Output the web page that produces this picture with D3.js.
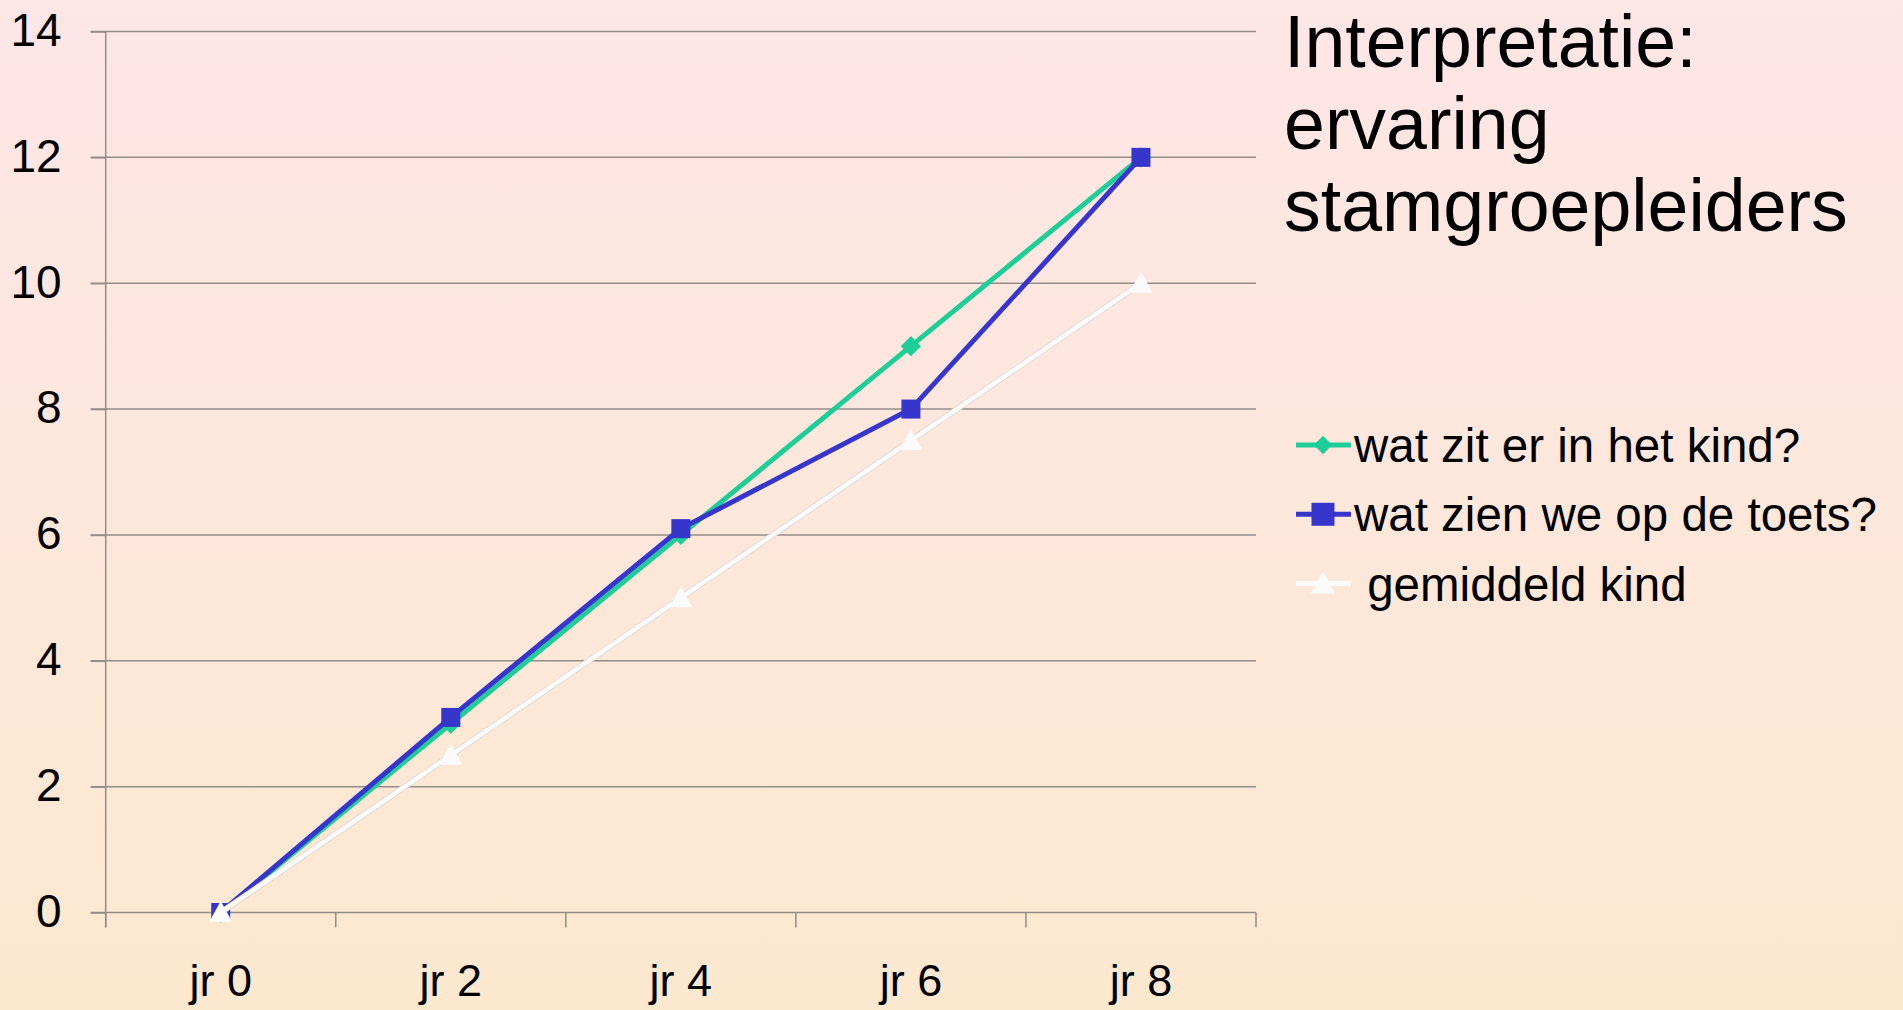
<!DOCTYPE html>
<html>
<head>
<meta charset="utf-8">
<script src="https://cdn.jsdelivr.net/npm/d3@7"></script>
<style>
  html, body { margin: 0; padding: 0; overflow: hidden; }
  body { font-family: "Liberation Sans", Arial, sans-serif; }
</style>
</head>
<body>
<div id="container"></div>
<script>
const width = 1903;
const height = 1010;
const margin = { top: 31.5, bottom: 97.5, left: 105.7, right: 647 };

// data
const categories = ["jr 0", "jr 2", "jr 4", "jr 6", "jr 8"];
const zitInKind = [0, 3, 6, 9, 12];
const zienOpToets = [0, 3.1, 6.1, 8, 12];
const gemiddeldKind = [0, 2.5, 5, 7.5, 10];
const yTicks = [0, 2, 4, 6, 8, 10, 12, 14];
const titleLines = ["Interpretatie:", "ervaring", "stamgroepleiders"];

const series = [
  { name: "wat zit er in het kind?", values: zitInKind, color: "#1dcf97", marker: "diamond" },
  { name: "wat zien we op de toets?", values: zienOpToets, color: "#3636cc", marker: "square" },
  { name: " gemiddeld kind", values: gemiddeldKind, color: "#fbfbfb", marker: "triangle" }
];

const svg = d3.select("#container")
  .append("svg")
  .attr("width", width)
  .attr("height", height);

const defs = svg.append("defs");
const grad = defs.append("linearGradient")
  .attr("id", "bg")
  .attr("x1", 0).attr("y1", 0).attr("x2", 0).attr("y2", 1);
grad.append("stop").attr("offset", "0%").attr("stop-color", "#ffe6e7");
grad.append("stop").attr("offset", "100%").attr("stop-color", "#fce8cf");

svg.append("rect")
  .attr("width", width)
  .attr("height", height)
  .attr("fill", "url(#bg)");

const xScale = d3.scaleBand()
  .domain(categories)
  .range([margin.left, width - margin.right]);

const yScale = d3.scaleLinear()
  .domain([0, 14])
  .range([height - margin.bottom, margin.top]);

const gridColor = "#938d88";

// gridlines
svg.append("g")
  .selectAll("line")
  .data(yTicks)
  .join("line")
  .attr("x1", margin.left - 15)
  .attr("x2", width - margin.right)
  .attr("y1", d => yScale(d))
  .attr("y2", d => yScale(d))
  .attr("stroke", gridColor)
  .attr("stroke-width", 1.5);

// y axis
const yAxis = svg.append("g")
  .attr("transform", `translate(${margin.left},0)`)
  .call(d3.axisLeft(yScale).tickValues(yTicks).tickSize(15).tickPadding(29));
yAxis.select(".domain").remove();
yAxis.selectAll(".tick line").attr("stroke", gridColor).attr("stroke-width", 1.5);
yAxis.selectAll(".tick text")
  .attr("font-family", "Liberation Sans, Arial, sans-serif")
  .attr("font-size", 46)
  .attr("fill", "#000")
  .attr("dy", "0.3em");

svg.append("line")
  .attr("x1", margin.left).attr("x2", margin.left)
  .attr("y1", yScale(14)).attr("y2", yScale(0) + 15)
  .attr("stroke", gridColor).attr("stroke-width", 1.5);

// x axis
const xAxis = svg.append("g")
  .attr("transform", `translate(0,${yScale(0)})`)
  .call(d3.axisBottom(xScale).tickSize(0).tickPadding(52));
xAxis.select(".domain").remove();
xAxis.selectAll(".tick text")
  .attr("font-family", "Liberation Sans, Arial, sans-serif")
  .attr("font-size", 45)
  .attr("fill", "#000");

// x tick marks between categories
const bounds = categories.map(c => xScale(c)).concat([xScale.range()[1]]);
svg.append("g")
  .selectAll("line")
  .data(bounds)
  .join("line")
  .attr("x1", d => d).attr("x2", d => d)
  .attr("y1", yScale(0)).attr("y2", yScale(0) + 15)
  .attr("stroke", gridColor).attr("stroke-width", 1.5);

const cx = c => xScale(c) + xScale.bandwidth() / 2;

const line = d3.line()
  .x((d, i) => cx(categories[i]))
  .y(d => yScale(d));

function markerPath(type, s) {
  if (type === "diamond") return d3.symbol(d3.symbolDiamond2, s * s * 0.5)();
  if (type === "square") return d3.symbol(d3.symbolSquare, s * s)();
  return `M0,${-s * 0.55}L${s * 0.55},${s * 0.45}L${-s * 0.55},${s * 0.45}Z`;
}
const markerSize = { diamond: 23, square: 19, triangle: 21 };
const legendSize = { diamond: 21, square: 23, triangle: 22 };

series.forEach(s => {
  const g = svg.append("g");
  if (s.marker === "triangle") {
    // faint grey edge round the white line
    g.append("path")
      .datum(s.values)
      .attr("d", line)
      .attr("fill", "none")
      .attr("stroke", "#dcd6d0")
      .attr("stroke-width", 6);
  }
  g.append("path")
    .datum(s.values)
    .attr("d", line)
    .attr("fill", "none")
    .attr("stroke", s.color)
    .attr("stroke-width", s.marker === "triangle" ? 4.5 : 5);
  g.selectAll("path.mk")
    .data(s.values)
    .join("path")
    .attr("class", "mk")
    .attr("transform", (d, i) => `translate(${cx(categories[i])},${yScale(d)})`)
    .attr("d", markerPath(s.marker, markerSize[s.marker]))
    .attr("fill", s.color);
});

// title
const title = svg.append("text")
  .attr("transform", "translate(1284,0)")
  .attr("font-family", "Liberation Sans, Arial, sans-serif")
  .attr("font-size", 73.5)
  .attr("fill", "#000");
title.selectAll("tspan")
  .data(titleLines)
  .join("tspan")
  .attr("x", 0)
  .attr("y", (d, i) => 67 + i * 82)
  .text(d => d);

// legend
const legend = svg.append("g");
const legendRows = legend.selectAll("g")
  .data(series)
  .join("g")
  .attr("transform", (d, i) => `translate(1296,${445 + i * 69.3})`);
legendRows.append("line")
  .attr("x1", 0).attr("x2", 55)
  .attr("stroke", d => d.color)
  .attr("stroke-width", 5);
legendRows.append("path")
  .attr("transform", "translate(27,0)")
  .attr("d", d => markerPath(d.marker, legendSize[d.marker]))
  .attr("fill", d => d.color);
legendRows.append("text")
  .attr("x", 58)
  .attr("y", 17)
  .attr("font-family", "Liberation Sans, Arial, sans-serif")
  .attr("font-size", 47.5)
  .attr("fill", "#000")
  .attr("xml:space", "preserve")
  .style("white-space", "pre")
  .text(d => d.name);
</script>
</body>
</html>
